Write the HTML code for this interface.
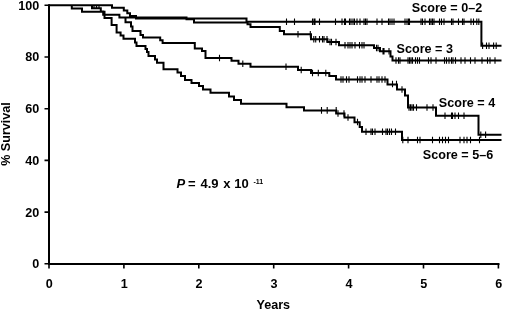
<!DOCTYPE html>
<html><head><meta charset="utf-8"><style>html,body{margin:0;padding:0;background:#fff;}svg{display:block;filter:grayscale(1);}text{font-family:"Liberation Sans",sans-serif;}</style></head>
<body><svg width="520" height="310" viewBox="0 0 520 310">
<rect width="520" height="310" fill="#fff"/>
<path d="M49 4.3V264.8M48 264H499.5" stroke="#000" stroke-width="2" fill="none"/><path d="M44.5 5.30H49 M44.5 57.00H49 M44.5 108.70H49 M44.5 160.40H49 M44.5 212.10H49 M44.5 263.80H49 M49.00 264V268.5 M123.90 264V268.5 M198.80 264V268.5 M273.70 264V268.5 M348.60 264V268.5 M423.50 264V268.5 M498.40 264V268.5" stroke="#000" stroke-width="1.6" fill="none"/>
<g font-weight="bold" font-size="12.6" fill="#000">
<text x="39.3" y="9.70" text-anchor="end">100</text><text x="39.3" y="61.40" text-anchor="end">80</text><text x="39.3" y="113.10" text-anchor="end">60</text><text x="39.3" y="164.80" text-anchor="end">40</text><text x="39.3" y="216.50" text-anchor="end">20</text><text x="39.3" y="268.20" text-anchor="end">0</text><text x="49.30" y="287.9" text-anchor="middle">0</text><text x="124.20" y="287.9" text-anchor="middle">1</text><text x="199.10" y="287.9" text-anchor="middle">2</text><text x="274.00" y="287.9" text-anchor="middle">3</text><text x="348.90" y="287.9" text-anchor="middle">4</text><text x="423.80" y="287.9" text-anchor="middle">5</text><text x="498.70" y="287.9" text-anchor="middle">6</text><text x="273.3" y="309.3" text-anchor="middle">Years</text><text transform="translate(9.9 134) rotate(-90)" text-anchor="middle">% Survival</text><text x="447" y="11.6" text-anchor="middle">Score = 0–2</text><text x="424.8" y="53" text-anchor="middle">Score = 3</text><text x="467" y="106.9" text-anchor="middle">Score = 4</text><text x="458" y="158.7" text-anchor="middle">Score = 5–6</text><g font-size="13"><text x="176.5" y="188.3" font-style="italic">P</text><text x="188" y="188.3">=</text><text x="200.5" y="188.3">4.9</text><text x="223.3" y="188.3">x</text><text x="234.2" y="188.3">10</text><text x="253.4" y="183.5" font-size="7">-11</text></g>
</g>
<path d="M49 5.2H112V7.7H123.8V10.5H127.3V13.3H130V16.1H136V18.5H246.5V21.8H481.4V45.8H501.5 M49 5.2H92V8.2H100.8V11.5H103.2V14.7H119.4V17.5H186.5V19.3H194V22.6H247.5V24.3H250.5V27H279.8V31H284V34.2H311V39.2H327.5V42H339V45.2H374V48H380V51.2H390.5V56.5H392.5V60.5H501.5 M119.4 17.5H125.5V22.3H131V26.6H132.5V31H140.5V35H143V37.5H160.2V40.3H162.6V43.1H194.8V48.5H202V51H205.5V58H231.5V60.8H238.5V63.8H250.5V66.8H298V70H311V73H329.3V76H336V79.5H387.5V84.4H397V89.5H405V95.5H408V107.5H436V115.8H478.5V134.8H501.5 M49 5.2H71.8V8.6H82V11.7H104.5V18.1H111.6V25.1H116.6V32.4H120.6V35.5H123.5V38.8H135V42.5H136.5V46H145.5V49H147V52H148.5V56H155V59.5H157V62.8H163.5V69.2H177.5V72.5H181V76H185V80H191.5V83H199V86H203V89.5H210.5V92.8H229V96.5H234V100H241V103.8H286.5V107.3H304V110.4H336.2V113.5H344.5V117.5H354.5V122.3H359.7V127H362V131.7H402V140H501.5" stroke="#000" stroke-width="2" fill="none" stroke-linejoin="miter" stroke-linecap="butt"/><path d="M286.5 18.5v6.6 M294.5 18.5v6.6 M312.5 18.5v6.6 M314 18.5v6.6 M315 18.5v6.6 M319.5 18.5v6.6 M335.5 18.5v6.6 M342 18.5v6.6 M344.5 18.5v6.6 M345.5 18.5v6.6 M349.5 18.5v6.6 M351 18.5v6.6 M353 18.5v6.6 M354.5 18.5v6.6 M357 18.5v6.6 M360 18.5v6.6 M364 18.5v6.6 M365.5 18.5v6.6 M367 18.5v6.6 M377 18.5v6.6 M382 18.5v6.6 M388.5 18.5v6.6 M390 18.5v6.6 M392 18.5v6.6 M394 18.5v6.6 M405 18.5v6.6 M407 18.5v6.6 M408.5 18.5v6.6 M409.5 18.5v6.6 M421 18.5v6.6 M422.5 18.5v6.6 M425 18.5v6.6 M429.5 18.5v6.6 M431 18.5v6.6 M432.5 18.5v6.6 M434 18.5v6.6 M439.5 18.5v6.6 M441.5 18.5v6.6 M444 18.5v6.6 M451.5 18.5v6.6 M453 18.5v6.6 M458.5 18.5v6.6 M462.5 18.5v6.6 M464 18.5v6.6 M471 18.5v6.6 M473.5 18.5v6.6 M476.8 18.5v6.6 M478.8 18.5v6.6 M482.6 42.5v6.6 M486.5 42.5v6.6 M489 42.5v6.6 M493.6 42.5v6.6 M496.2 42.5v6.6 M298 30.9v6.6 M310.3 30.9v6.6 M313.8 35.9v6.6 M315.7 35.9v6.6 M319.5 35.9v6.6 M322.5 35.9v6.6 M324 35.9v6.6 M327 35.9v6.6 M330 38.7v6.6 M331.5 38.7v6.6 M336 38.7v6.6 M345 41.9v6.6 M348 41.9v6.6 M350 41.9v6.6 M352 41.9v6.6 M355 41.9v6.6 M359.5 41.9v6.6 M362 41.9v6.6 M364 41.9v6.6 M376.5 44.7v6.6 M378 44.7v6.6 M383 47.9v6.6 M384 47.9v6.6 M389 47.9v6.6 M396 57.2v6.6 M398.5 57.2v6.6 M400 57.2v6.6 M408 57.2v6.6 M409.5 57.2v6.6 M411 57.2v6.6 M412.5 57.2v6.6 M415.5 57.2v6.6 M417.5 57.2v6.6 M419.5 57.2v6.6 M428.5 57.2v6.6 M431 57.2v6.6 M436 57.2v6.6 M444.5 57.2v6.6 M446.5 57.2v6.6 M449 57.2v6.6 M451.5 57.2v6.6 M453 57.2v6.6 M455.5 57.2v6.6 M461 57.2v6.6 M465 57.2v6.6 M470.5 57.2v6.6 M475 57.2v6.6 M482 57.2v6.6 M487.5 57.2v6.6 M490 57.2v6.6 M495 57.2v6.6 M219.5 54.7v6.6 M242.8 60.5v6.6 M286 63.5v6.6 M301.2 66.7v6.6 M312.5 69.7v6.6 M318.3 69.7v6.6 M325.8 69.7v6.6 M341 76.2v6.6 M343 76.2v6.6 M346.5 76.2v6.6 M349 76.2v6.6 M357.5 76.2v6.6 M360 76.2v6.6 M362 76.2v6.6 M365 76.2v6.6 M371 76.2v6.6 M377 76.2v6.6 M379 76.2v6.6 M382 76.2v6.6 M385 76.2v6.6 M392.5 80.7v6.6 M396.5 80.7v6.6 M402 86.2v6.6 M409 104.2v6.6 M410.5 104.2v6.6 M412 104.2v6.6 M413.5 104.2v6.6 M416.5 104.2v6.6 M427 104.2v6.6 M433 104.2v6.6 M445 112.5v6.6 M451.5 112.5v6.6 M452.5 112.5v6.6 M455 112.5v6.6 M458.5 112.5v6.6 M464 112.5v6.6 M480.8 131.5v6.6 M485.6 131.5v6.6 M321.5 107.1v6.6 M327.2 107.1v6.6 M336.2 107.1v6.6 M338 110.2v6.6 M344 110.2v6.6 M348 114.2v6.6 M357.5 118.7v6.6 M366 128.4v6.6 M371 128.4v6.6 M372.5 128.4v6.6 M375 128.4v6.6 M382.5 128.4v6.6 M386 128.4v6.6 M387.5 128.4v6.6 M389.5 128.4v6.6 M391.5 128.4v6.6 M395.5 128.4v6.6 M402.8 136.7v6.6 M408 136.7v6.6 M417.5 136.7v6.6 M420 136.7v6.6 M432.5 136.7v6.6 M439.5 136.7v6.6 M442.5 136.7v6.6 M445.5 136.7v6.6 M448.5 136.7v6.6 M460 136.7v6.6 M464 136.7v6.6 M467 136.7v6.6 M470.5 136.7v6.6 M479.5 136.7v6.6 M94 5.8V8.6 M96.5 5.8V8.6 M99 5.8V8.6" stroke="#000" stroke-width="1.1" fill="none"/>
</svg></body></html>
